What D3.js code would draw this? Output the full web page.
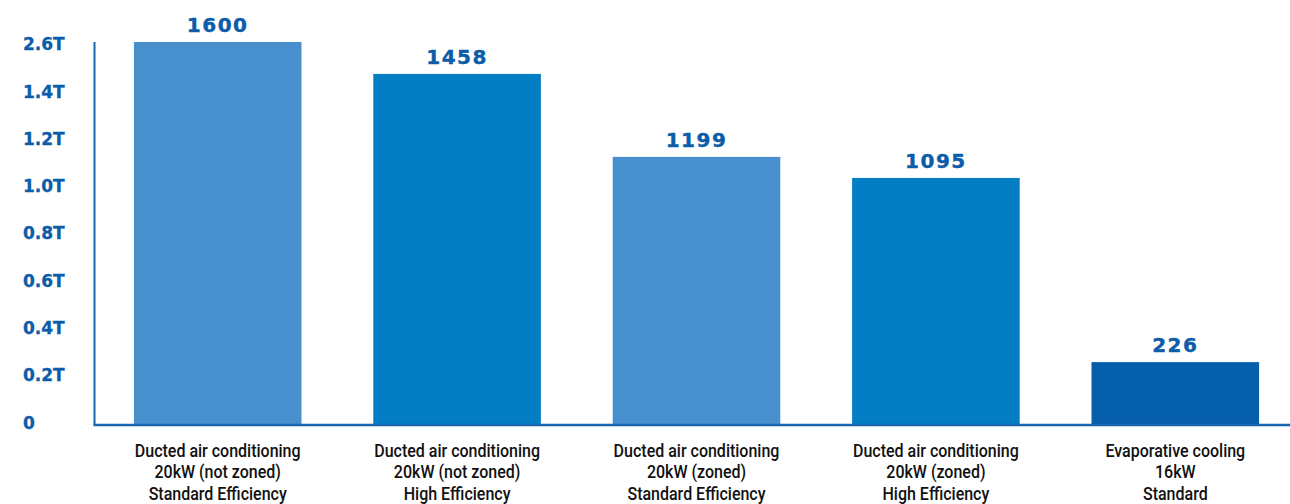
<!DOCTYPE html>
<html>
<head>
<meta charset="utf-8">
<script src="https://cdn.jsdelivr.net/npm/d3@7"></script>
<style>
  html, body { margin: 0; padding: 0; background: #ffffff; }
  svg { display: block; }
</style>
</head>
<body>
<svg id="chart" width="1290" height="504"></svg>
<script>
// ---- data ----
const categories = [
  ["Ducted air conditioning", "20kW (not zoned)", "Standard Efficiency"],
  ["Ducted air conditioning", "20kW (not zoned)", "High Efficiency"],
  ["Ducted air conditioning", "20kW (zoned)", "Standard Efficiency"],
  ["Ducted air conditioning", "20kW (zoned)", "High Efficiency"],
  ["Evaporative cooling", "16kW", "Standard"]
];
// bar heights as drawn in the picture, in axis units (T)
const barValues = [1.62, 1.485, 1.134, 1.045, 0.266];
// value labels printed above the bars
const valueLabels = ["1600", "1458", "1199", "1095", "226"];
const barColors = ["#4790cd", "#037dc4", "#4790cd", "#037dc4", "#055fab"];
const tickValues = [0, 0.2, 0.4, 0.6, 0.8, 1.0, 1.2, 1.4, 1.6];
const tickLabels = ["0", "0.2T", "0.4T", "0.6T", "0.8T", "1.0T", "1.2T", "1.4T", "2.6T"];

// ---- layout ----
const svg = d3.select("#chart");
const baseY = 425, topY = 42, axisX = 94.5;
const axisColor = "#1766b4";
const labelBlue = "#0b5ca9";

const x = d3.scaleBand()
  .domain(d3.range(categories.length))
  .range([98, 1295])
  .paddingInner(0.3)
  .paddingOuter(0.15);

const y = d3.scaleLinear()
  .domain([0, 1.62])
  .range([baseY, topY]);

// bars
svg.append("g").selectAll("rect")
  .data(barValues)
  .join("rect")
  .attr("x", (d, i) => x(i))
  .attr("y", d => y(d))
  .attr("width", x.bandwidth())
  .attr("height", d => baseY - y(d))
  .attr("fill", (d, i) => barColors[i]);

// value labels
svg.append("g").selectAll("text")
  .data(barValues)
  .join("text")
  .attr("x", (d, i) => x(i) + x.bandwidth() / 2)
  .attr("y", d => y(d) - 10)
  .attr("text-anchor", "middle")
  .attr("font-family", "'DejaVu Sans', sans-serif")
  .attr("font-weight", "bold")
  .attr("font-size", 20)
  .attr("letter-spacing", 1.5)
  .attr("stroke", labelBlue)
  .attr("stroke-width", 0.4)
  .attr("fill", labelBlue)
  .text((d, i) => valueLabels[i]);

// y axis (custom labels, left aligned)
const yAxis = d3.axisLeft(y).tickValues(tickValues).tickSize(0).tickFormat((d, i) => tickLabels[i]);
const gy = svg.append("g").attr("transform", `translate(${axisX},0)`).call(yAxis);
gy.select(".domain").remove();
gy.selectAll("text")
  .attr("x", 23 - axisX)
  .attr("dy", "0")
  .attr("y", 3)
  .attr("text-anchor", "start")
  .attr("font-family", "'DejaVu Sans', sans-serif")
  .attr("font-weight", "bold")
  .attr("font-size", 17)
  .attr("stroke", labelBlue)
  .attr("stroke-width", 0.3)
  .attr("fill", labelBlue);

// axis lines
svg.append("line")
  .attr("x1", axisX).attr("x2", axisX)
  .attr("y1", topY).attr("y2", baseY)
  .attr("stroke", axisColor).attr("stroke-width", 2);
svg.append("line")
  .attr("x1", axisX - 1).attr("x2", 1290)
  .attr("y1", baseY).attr("y2", baseY)
  .attr("stroke", axisColor).attr("stroke-width", 2.5);

// category labels (condensed look)
const gx = svg.append("g");
categories.forEach((lines, i) => {
  const cx = x(i) + x.bandwidth() / 2;
  const t = gx.append("text")
    .attr("transform", `translate(${cx},0) scale(0.89,1)`)
    .attr("text-anchor", "middle")
    .attr("font-family", "Roboto, 'DejaVu Sans Condensed', sans-serif")
    .attr("font-weight", 500)
    .attr("font-size", 18)
    .attr("fill", "#111111");
  lines.forEach((ln, j) => {
    t.append("tspan")
      .attr("x", 0)
      .attr("y", 457 + j * 21.5)
      .text(ln);
  });
});
</script>
</body>
</html>
